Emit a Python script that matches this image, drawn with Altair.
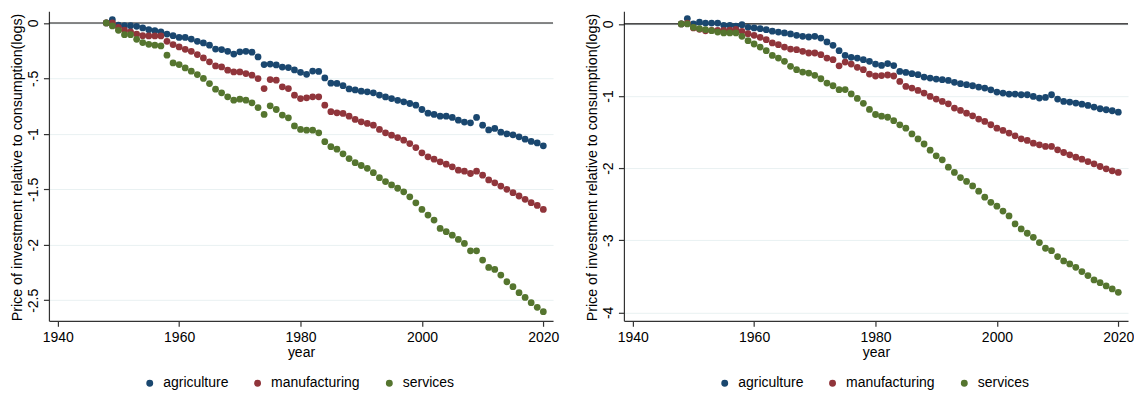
import altair as alt
import pandas as pd

YEARS = list(range(1948, 2021))
SECTORS = ["agriculture", "manufacturing", "services"]
COLORS = ["#1a476f", "#90353b", "#55752f"]
X_TICKS = [1940, 1960, 1980, 2000, 2020]
Y_TICKS_L = [0, -0.5, -1, -1.5, -2, -2.5]
Y_TICKS_R = [0, -1, -2, -3, -4]
Y_TITLE = "Price of investment relative to consumption(logs)"
ZERO = [0]

AGR_L = [0, 0.03, -0.02, -0.025, -0.025, -0.03, -0.045, -0.06, -0.07, -0.08,
         -0.1, -0.115, -0.13, -0.13, -0.145, -0.165, -0.18, -0.2, -0.235, -0.24,
         -0.255, -0.28, -0.26, -0.255, -0.263, -0.306, -0.375, -0.37, -0.378, -0.398,
         -0.402, -0.423, -0.445, -0.463, -0.434, -0.437, -0.495, -0.543, -0.545, -0.565,
         -0.595, -0.604, -0.615, -0.621, -0.63, -0.65, -0.667, -0.681, -0.697, -0.711,
         -0.726, -0.741, -0.78, -0.813, -0.825, -0.84, -0.84, -0.852, -0.876, -0.893,
         -0.9, -0.852, -0.921, -0.964, -0.951, -0.985, -1.0, -1.008, -1.026, -1.048,
         -1.068, -1.082, -1.108]
MAN_L = [0, 0.0, -0.04, -0.065, -0.08, -0.1, -0.115, -0.117, -0.117, -0.117,
         -0.165, -0.195, -0.216, -0.237, -0.255, -0.285, -0.315, -0.35, -0.387, -0.396,
         -0.426, -0.441, -0.441, -0.456, -0.471, -0.501, -0.591, -0.51, -0.516, -0.576,
         -0.591, -0.651, -0.681, -0.675, -0.666, -0.666, -0.741, -0.8, -0.81, -0.816,
         -0.84, -0.87, -0.891, -0.906, -0.921, -0.96, -0.99, -1.012, -1.033, -1.057,
         -1.087, -1.123, -1.171, -1.207, -1.228, -1.252, -1.273, -1.297, -1.327, -1.336,
         -1.357, -1.336, -1.372, -1.415, -1.441, -1.47, -1.5, -1.53, -1.56, -1.59,
         -1.62, -1.645, -1.681]
SER_L = [0, -0.027, -0.066, -0.105, -0.105, -0.147, -0.177, -0.192, -0.2, -0.207,
         -0.29, -0.36, -0.375, -0.405, -0.435, -0.465, -0.5, -0.546, -0.597, -0.63,
         -0.666, -0.696, -0.687, -0.696, -0.72, -0.763, -0.825, -0.747, -0.78, -0.83,
         -0.855, -0.928, -0.96, -0.967, -0.967, -0.99, -1.07, -1.115, -1.138, -1.18,
         -1.222, -1.26, -1.285, -1.31, -1.35, -1.395, -1.43, -1.46, -1.49, -1.522,
         -1.567, -1.621, -1.681, -1.732, -1.777, -1.852, -1.882, -1.913, -1.952, -1.988,
         -2.054, -2.054, -2.138, -2.204, -2.222, -2.273, -2.333, -2.378, -2.432, -2.474,
         -2.522, -2.564, -2.603]

AGR_R = [0, 0.074, 0.0, 0.025, 0.013, 0.013, 0.012, -0.019, -0.019, -0.03,
         -0.01, -0.047, -0.056, -0.065, -0.079, -0.1, -0.112, -0.125, -0.139, -0.158,
         -0.172, -0.181, -0.172, -0.195, -0.25, -0.297, -0.371, -0.436, -0.463, -0.473,
         -0.496, -0.519, -0.556, -0.575, -0.55, -0.577, -0.658, -0.672, -0.69, -0.704,
         -0.737, -0.75, -0.764, -0.773, -0.783, -0.81, -0.829, -0.843, -0.857, -0.876,
         -0.89, -0.913, -0.945, -0.959, -0.973, -0.973, -0.982, -0.982, -1.005, -1.028,
         -1.019, -0.982, -1.042, -1.075, -1.084, -1.098, -1.112, -1.13, -1.153, -1.176,
         -1.19, -1.204, -1.223]
MAN_R = [0, 0.01, -0.055, -0.075, -0.095, -0.088, -0.088, -0.088, -0.085, -0.075,
         -0.102, -0.135, -0.158, -0.186, -0.218, -0.264, -0.288, -0.32, -0.348, -0.357,
         -0.38, -0.403, -0.403, -0.427, -0.473, -0.496, -0.58, -0.528, -0.556, -0.602,
         -0.635, -0.695, -0.722, -0.716, -0.708, -0.722, -0.797, -0.866, -0.89, -0.922,
         -0.959, -1.005, -1.042, -1.075, -1.107, -1.167, -1.2, -1.237, -1.274, -1.32,
         -1.352, -1.398, -1.445, -1.477, -1.514, -1.551, -1.593, -1.616, -1.653, -1.676,
         -1.699, -1.699, -1.746, -1.783, -1.815, -1.848, -1.875, -1.908, -1.94, -1.977,
         -2.01, -2.037, -2.06]
SER_R = [0, 0.0, -0.047, -0.065, -0.079, -0.093, -0.112, -0.125, -0.125, -0.125,
         -0.172, -0.232, -0.278, -0.32, -0.371, -0.436, -0.473, -0.519, -0.588, -0.635,
         -0.667, -0.681, -0.713, -0.76, -0.82, -0.857, -0.912, -0.91, -0.97, -1.033,
         -1.1, -1.185, -1.256, -1.28, -1.294, -1.342, -1.399, -1.445, -1.526, -1.595,
         -1.665, -1.75, -1.829, -1.885, -1.986, -2.06, -2.13, -2.185, -2.246, -2.32,
         -2.402, -2.474, -2.528, -2.595, -2.662, -2.773, -2.843, -2.903, -2.959, -3.032,
         -3.111, -3.144, -3.227, -3.287, -3.329, -3.375, -3.435, -3.49, -3.551, -3.588,
         -3.634, -3.676, -3.722]

W, H = 505, 310
X_DOMAIN = [1938.55, 2021.6]
FONT = "Liberation Sans"
AXIS_COLOR = "#333333"
GRID_COLOR = "#e9f1f2"


def panel(ag, mf, sv, ydomain, yticks):
    df = pd.DataFrame({
        "year": YEARS * 3,
        "value": ag + mf + sv,
        "sector": [s for s in SECTORS for _ in YEARS],
    })
    x_axis = alt.Axis(values=X_TICKS, format="d", title="year", grid=False,
                      tickSize=5.5, labelPadding=15.5, labelBaseline="alphabetic",
                      labelFontSize=14, labelColor="black", labelFont=FONT,
                      titleFontSize=14, titleFontWeight="normal", titleColor="black",
                      titleFont=FONT, titleBaseline="alphabetic", titleY=35.5,
                      titleX=W / 2, titleAlign="center",
                      domainColor=AXIS_COLOR, tickColor=AXIS_COLOR,
                      domainWidth=1.2, tickWidth=1.2)
    y_axis = alt.Axis(values=yticks, title=Y_TITLE, grid=True, gridColor=GRID_COLOR,
                      gridWidth=1,
                      labelExpr="datum.value == 0 ? '0' : replace(toString(datum.value), '-0.', '-.')",
                      labelAngle=270, labelAlign="center", labelBaseline="alphabetic",
                      tickSize=5.5, labelPadding=6,
                      labelFontSize=14, labelColor="black", labelFont=FONT,
                      titleFontSize=14.3, titleFontWeight="normal", titleColor="black",
                      titleFont=FONT, titleAngle=270, titleAlign="center",
                      titleBaseline="alphabetic", titleX=-27.4, titleY=H / 2 + 1,
                      domainColor=AXIS_COLOR, tickColor=AXIS_COLOR,
                      domainWidth=1.2, tickWidth=1.2)
    x = alt.X("year:Q", scale=alt.Scale(domain=X_DOMAIN, nice=False, zero=False),
              axis=x_axis)
    y = alt.Y("value:Q", scale=alt.Scale(domain=ydomain, nice=False, zero=False),
              axis=y_axis)
    color = alt.Color("sector:N",
                      scale=alt.Scale(domain=SECTORS, range=COLORS),
                      legend=alt.Legend(orient="none", legendX=94, legendY=365.5,
                                        direction="horizontal", title=None,
                                        symbolType="circle", symbolSize=48,
                                        symbolStrokeWidth=0, symbolOpacity=1,
                                        labelFontSize=14, labelFont=FONT,
                                        labelColor="black", labelOffset=6.5,
                                        columnPadding=22, padding=0))
    zero = alt.Chart(pd.DataFrame({"z": ZERO})).mark_rule(
        color="#111111", strokeWidth=1.2).encode(y=alt.Y("z:Q"))
    pts = alt.Chart(df).mark_circle(size=46, opacity=1).encode(
        x=x, y=y, color=color, order=alt.value(0))
    return alt.layer(zero, pts).properties(width=W, height=H)


left = panel(AGR_L, MAN_L, SER_L, [-2.685, 0.105], Y_TICKS_L)
right = panel(AGR_R, MAN_R, SER_R, [-4.117, 0.175], Y_TICKS_R)

chart = alt.hconcat(left, right, spacing=71, bounds="flush").resolve_scale(
    color="independent"
).properties(
    padding={"top": 3, "left": 2, "right": 0, "bottom": 0},
    background="white",
).configure(font=FONT).configure_view(stroke=None)

chart.save("out.html", embed_options={"renderer": "svg", "actions": False})
